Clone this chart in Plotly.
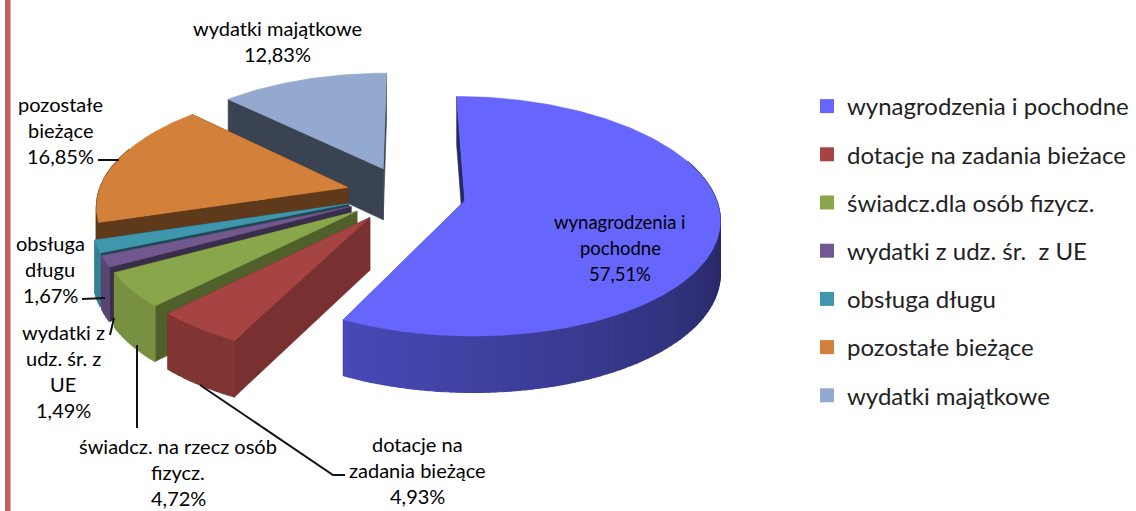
import numpy as np
import plotly.graph_objects as go

# ---- data ----
categories = ["wynagrodzenia i pochodne", "dotacje na zadania bieżace", "świadcz.dla osób fizycz.",
              "wydatki z udz. śr.  z UE", "obsługa długu", "pozostałe bieżące", "wydatki majątkowe"]
values = [57.51, 4.93, 4.72, 1.49, 1.67, 16.85, 12.83]
colors = ["#6666ff", "#a54442", "#8aa64b", "#71588f", "#3f97ae", "#d3803a", "#93a9cf"]
label_lines = [
    ["wynagrodzenia i", "pochodne", "57,51%"],
    ["dotacje na", "zadania bieżące", "4,93%"],
    ["świadcz. na rzecz osób", "fizycz.", "4,72%"],
    ["wydatki z", "udz. śr. z", "UE", "1,49%"],
    ["obsługa", "długu", "1,67%"],
    ["pozostałe", "bieżące", "16,85%"],
    ["wydatki majątkowe", "12,83%"],
]
label_x = [620, 417, 178, 63, 50, 60, 277]
label_y0 = [222, 444, 446, 332, 243, 104, 28]
label_size = [18.5, 20, 20, 20, 20, 20, 20]
label_step = 26

# ---- projection of the tilted pie onto the page ----
CX, CY = 406, 194
RX, RY = 250, 118
PX, PY = 0.14, 0.132
EXPLODE = 0.24
H = 52
LABEL_FONT = "Lato"


def proj(X, Y, z=0.0):
    X, Y = np.asarray(X, float), np.asarray(Y, float)
    return (CX + RX * X * (1 + PX * Y),
            CY + RY * Y * (1 + PY * Y) + z * H * (1 + 0.08 * Y))


def shade(hex_color, f):
    r, g, b = [int(hex_color[i:i + 2], 16) for i in (1, 3, 5)]
    return f"rgb({int(r * f)},{int(g * f)},{int(b * f)})"


def poly(fig, x, y, color, width=0.6):
    fig.add_trace(go.Scatter(x=list(x) + [x[0]], y=list(y) + [y[0]], mode="lines", fill="toself",
                             fillcolor=color, line=dict(color=color, width=width),
                             hoverinfo="skip", showlegend=False))


def radial_shade(theta):
    return float(np.interp(theta, [0, 207, 225, 242, 253, 314, 360],
                           [.40, .73, .58, .52, .45, .40, .40]))


arc_shade = [None, .78, .87, .8, .85, .45, .40]

fig = go.Figure()
shares = np.array(values) / sum(values) * 360
edges = np.concatenate([[0], np.cumsum(shares)])
slices = []
for i, v in enumerate(values):
    slices.append((i, edges[i], edges[i + 1]))

# painter's order: back slices first
for i in [6, 5, 4, 3, 2, 1, 0]:
    t0, t1 = slices[i][1], slices[i][2]
    mid = np.radians((t0 + t1) / 2)
    ox, oy = EXPLODE * np.sin(mid), -EXPLODE * np.cos(mid)
    c = colors[i]
    th = np.radians(np.linspace(t0, t1, max(int(t1 - t0), 3)))
    ax, ay = ox + np.sin(th), oy - np.cos(th)
    # radial walls: the hidden one (end of the slice) first
    for t, px, py in ((t1, ax[-1], ay[-1]), (t0, ax[0], ay[0])):
        x0, y0 = proj([ox, px], [oy, py])
        x1, y1 = proj([ox, px], [oy, py], 1)
        poly(fig, [x0[0], x0[1], x1[1], x1[0]], [y0[0], y0[1], y1[1], y1[0]], shade(c, radial_shade(t)))
    # rim wall in strips, only the part facing the viewer
    a0, a1 = max(t0, 70), min(t1, 290)
    if a1 > a0:
        n = max(int((a1 - a0) / 1.5), 1)
        bounds = np.linspace(a0, a1, n + 1)
        for b0, b1 in zip(bounds[:-1], bounds[1:]):
            tt = np.radians(np.linspace(b0, b1, 3))
            sx, sy = ox + np.sin(tt), oy - np.cos(tt)
            x0, y0 = proj(sx, sy)
            x1, y1 = proj(sx, sy, 1)
            if arc_shade[i] is None:
                f = float(np.interp((b0 + b1) / 2, [90, 207], [.36, .72]))
            else:
                f = arc_shade[i]
            poly(fig, np.r_[x0, x1[::-1]], np.r_[y0, y1[::-1]], shade(c, f), width=1.2)
    # top face
    tx, ty = proj(np.r_[ox, ax], np.r_[oy, ay])
    poly(fig, tx, ty, c)

# leader lines
leaders = [([98, 119], [160, 160]), ([82, 105], [299, 298]), ([110, 114], [335, 318]),
           ([137, 137], [345, 428]), ([200, 333, 345], [385, 475, 475])]
for lx, ly in leaders:
    fig.add_trace(go.Scatter(x=lx, y=ly, mode="lines", line=dict(color="#111111", width=2),
                             hoverinfo="skip", showlegend=False))

# legend entries
for i, name in enumerate(categories):
    fig.add_trace(go.Scatter(x=[None], y=[None], mode="markers", name=name, legendgroup=name,
                             marker=dict(symbol="square", size=14, color=colors[i])))

annotations = []
for lines, x, y0, size in zip(label_lines, label_x, label_y0, label_size):
    for k, line in enumerate(lines):
        annotations.append(dict(x=x, y=y0 + k * label_step, text=line, showarrow=False,
                                xanchor="center", yanchor="middle",
                                font=dict(family=LABEL_FONT, size=size, color="#000000")))

fig.update_layout(
    width=1136, height=511, margin=dict(l=0, r=0, t=0, b=0),
    paper_bgcolor="white", plot_bgcolor="white",
    xaxis=dict(range=[0, 1136], visible=False, fixedrange=True),
    yaxis=dict(range=[511, 0], visible=False, fixedrange=True),
    annotations=annotations,
    shapes=[dict(type="rect", xref="paper", yref="paper", x0=5 / 1136, x1=10.5 / 1136, y0=0, y1=1,
                 fillcolor="#bd5e5c", line_width=0)],
    legend=dict(x=807 / 1136, y=1 - 84 / 511, xanchor="left", yanchor="top", tracegroupgap=14,
                font=dict(family=LABEL_FONT, size=24, color="#222222"), bgcolor="rgba(0,0,0,0)",
                itemclick=False, itemdoubleclick=False),
)

fig.write_html("out.html", config={"displayModeBar": False},
               post_script="document.body.style.margin='0';document.body.style.overflow='hidden';")
